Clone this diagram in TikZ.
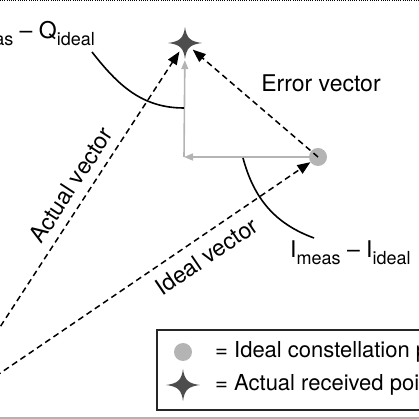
\documentclass[tikz,border=0pt]{standalone}
\usepackage{fontspec}
\setmainfont{TeX Gyre Heros}
\usetikzlibrary{arrows.meta}
\definecolor{ptgray}{RGB}{180,180,180}
\definecolor{stargray}{RGB}{77,77,77}
\newcommand{\lsub}[1]{\raisebox{-7pt}{\fontsize{18}{18}\selectfont #1}}
\begin{document}
\begin{tikzpicture}[x=1pt,y=1pt,font=\fontsize{23}{27}\selectfont]
  \tikzset{vec/.style={draw,line width=1.5pt,dash pattern=on 6pt off 4pt,-{Triangle[length=13pt,width=10pt]}},
    ax/.style={draw=ptgray,line width=1.6pt,-{Triangle[length=9pt,width=7pt]}},
    brc/.style={draw,line width=1.6pt},
    pt/.style={circle,fill=ptgray,minimum size=18pt,inner sep=0pt},
    st/.style={circle,minimum size=20pt,inner sep=0pt},
    lbl/.style={inner sep=0pt},
    astar/.pic={\fill[stargray] (0,16) .. controls (1.5,5) and (5,1.5) .. (17,0)
      .. controls (5,-1.5) and (1.5,-5) .. (0,-16) .. controls (-1.5,-5) and (-5,-1.5) .. (-17,0)
      .. controls (-5,1.5) and (-1.5,5) .. (0,16) -- cycle;}}
  \clip (0,0) rectangle (419,419);
  % frame lines
  \draw[line width=0.8pt,dash pattern=on 1pt off 1.2pt] (0,418.5) -- (419,418.5);
  \draw[ptgray,line width=2pt] (0,1) -- (419,1);
  % points
  \coordinate (o) at (-54,9);
  \coordinate (k) at (184,262);
  \node[pt] (ideal) at (318,262) {};
  \node[st] (actual) at (185,376) {};
  \pic at (actual) {astar};
  % I and Q components
  \draw[ax] (ideal) -- (k);
  \draw[ax,shorten >=7pt] (k) -- (actual);
  % vectors
  \draw[vec] (o) -- node[pos=0.6,sloped,above=8.8pt,lbl] {Actual vector} (actual);
  \draw[vec] (o) -- node[pos=0.685,sloped,below=10pt,lbl] {Ideal vector} (ideal);
  \draw[vec] (ideal.center) -- (actual);
  \node[lbl,anchor=base] (err) at (321,327) {Error vector};
  % component labels
  \coordinate (qa) at (92,367);
  \coordinate (qb) at (184,311);
  \draw[brc] (qa) to[out=-52,in=180] (qb);
  \node[lbl,anchor=base east] (ql) at (95,380) {Q\lsub{meas} – Q\lsub{ideal}};
  \coordinate (ia) at (243,261);
  \coordinate (ib) at (314,181);
  \draw[brc] (ia) to[out=-75,in=160] (ib);
  \node[lbl,anchor=base west] (il) at (290,161) {I\lsub{meas} – I\lsub{ideal}};
  % legend
  \draw[line width=1.5pt,draw=black!85] (157,9) rectangle (432,89);
  \node[pt] (lc) at (183,67) {};
  \pic at (183,34) {astar};
  \node[lbl,anchor=base west,font=\fontsize{22}{26}\selectfont] (lt1) at (215,61) {= Ideal constellation point};
  \node[lbl,anchor=base west,font=\fontsize{22}{26}\selectfont] (lt2) at (215,28) {= Actual received point};
\end{tikzpicture}
\end{document}
